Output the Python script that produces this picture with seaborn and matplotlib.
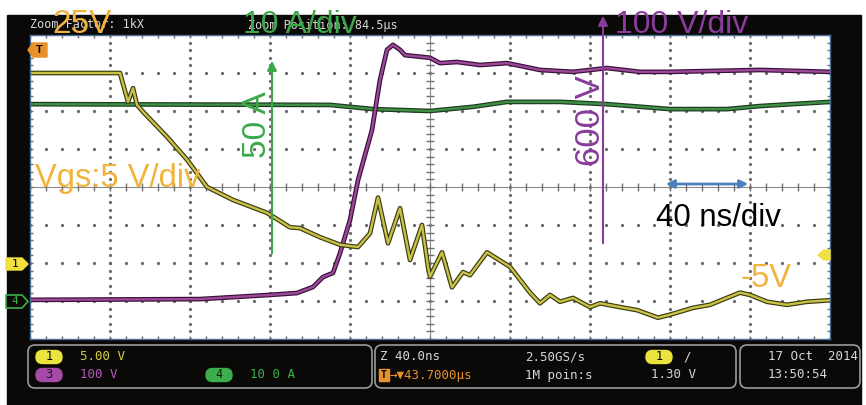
import matplotlib
matplotlib.use('Agg')
import matplotlib.pyplot as plt
import matplotlib.patheffects as pe
from matplotlib.patches import Rectangle, FancyBboxPatch, Polygon
import seaborn as sns
import pandas as pd
import numpy as np

W, H = 866, 405

# channel 1: gate voltage (5 V/div), time in ns from left edge of screen
vgs_t = [0, 45, 49, 51.5, 53.5, 56.5, 68.5, 78.5, 88.5, 101.5, 118.5, 130, 135, 145, 155, 164,
         170, 174, 179, 185, 190, 196, 199, 200, 206, 211, 216.5, 220, 228.5, 240, 250, 255,
         260, 265, 271.5, 280, 285, 295, 303.5, 314, 320, 331.5, 340, 355, 360, 368.5, 378.5,
         388.5, 400]
vgs_v = [25.0, 25.0, 21.2, 23.0, 20.8, 19.9, 16.6, 13.6, 10.0, 8.3, 6.6, 4.7, 4.6, 3.4, 2.4, 2.1,
         3.9, 8.6, 2.6, 7.2, 0.4, 5.0, -0.5, -1.8, 1.4, -3.2, -1.2, -1.6, 1.4, -0.5, -3.9, -5.3,
         -4.2, -5.1, -4.6, -5.8, -5.3, -5.8, -6.2, -7.2, -6.8, -5.9, -5.5, -3.9, -4.2, -5.1, -5.5,
         -5.1, -4.9]

# channel 3: drain-source voltage (100 V/div)
vds_t = [0, 85, 120, 133.5, 141.5, 146.5, 151.5, 155, 160, 164, 171, 175, 178.5, 181.5, 185,
         187.5, 200, 205, 213.5, 225, 238.5, 255, 271.5, 288.5, 305, 320, 365, 400]
vds_v = [3, 5, 16, 21, 37, 63, 74, 126, 213, 318, 450, 582, 661, 674, 661,
         647, 640, 626, 629, 621, 626, 608, 603, 613, 603, 603, 608, 603]

# channel 4: current (10 A/div)
id_t = [0, 150, 171.5, 200, 221.5, 238.5, 265, 288.5, 320, 348.5, 365, 400]
id_a = [51.8, 51.6, 50.5, 50.0, 51.1, 52.4, 52.4, 51.8, 50.5, 50.5, 51.3, 52.4]

NS_DIV = 40
channels = {
    'vgs': dict(scale=5, offset=-2, color='#c9c247', edge='#3b3a12'),
    'vds': dict(scale=100, offset=-3, color='#9a4a98', edge='#3a0f3a'),
    'id': dict(scale=10, offset=-3, color='#3f8f45', edge='#1c3a1e'),
}

frames = []
for name, t, v in [('id', id_t, id_a), ('vds', vds_t, vds_v), ('vgs', vgs_t, vgs_v)]:
    c = channels[name]
    frames.append(pd.DataFrame({'x': np.array(t) / NS_DIV,
                                'y': np.array(v) / c['scale'] + c['offset'],
                                'ch': name}))
df = pd.concat(frames)

sns.set_style('white')
plt.rcParams['font.family'] = ['Liberation Sans', 'DejaVu Sans']

fig = plt.figure(figsize=(W / 100, H / 100), dpi=100)


def px_box(x0, y0, x1, y1):
    return [x0 / W, 1 - y1 / H, (x1 - x0) / W, (y1 - y0) / H]


bg = fig.add_axes([0, 0, 1, 1], zorder=0)
bg.set_xlim(0, W)
bg.set_ylim(H, 0)
bg.axis('off')
bg.add_patch(Rectangle((7, 15), 854, 390, color='#0b0907'))

mono = 'DejaVu Sans Mono'
grey = '#d6d6d6'
bg.text(30, 25, 'Zoom Factor: 1kX', color=grey, family=mono, fontsize=8.5, va='center')
bg.text(248, 25, 'Zoom Position: 84.5\u03bcs', color=grey, family=mono, fontsize=8.5, va='center')

# screen
ax = fig.add_axes(px_box(30, 35, 830, 339), zorder=1)
ax.set_facecolor('white')
ax.set_xlim(0, 10)
ax.set_ylim(-4, 4)
ax.set_xticks([])
ax.set_yticks([])
for s in ax.spines.values():
    s.set_color('#4a6e96')
    s.set_linewidth(1)

gcol = '#6a6a6a'
fine_x = np.arange(0, 10.01, 0.2)
fine_y = np.arange(-4, 4.01, 0.2)
for gx in range(1, 10):
    if gx != 5:
        ax.plot(np.full_like(fine_y, gx), fine_y, ls='none', marker='o', ms=1.3, color=gcol)
for gy in range(-3, 4):
    if gy != 0:
        ax.plot(fine_x, np.full_like(fine_x, gy), ls='none', marker='o', ms=1.3, color=gcol)
ax.axvline(5, color='#8a8a8a', lw=0.8)
ax.axhline(0, color='#8a8a8a', lw=0.8)
ax.plot(np.full_like(fine_y, 5), fine_y, ls='none', marker='_', ms=6, mew=1, color='#707070')
ax.plot(fine_x, np.zeros_like(fine_x), ls='none', marker='|', ms=6, mew=1, color='#707070')
for ey in (-4, 4):
    ax.plot(fine_x, np.full_like(fine_x, ey), ls='none', marker='|', ms=5, mew=1, color='#707070')
for ex in (0, 10):
    ax.plot(np.full_like(fine_y, ex), fine_y, ls='none', marker='_', ms=5, mew=1, color='#707070')

for name in ['id', 'vds', 'vgs']:
    c = channels[name]
    sns.lineplot(data=df[df['ch'] == name], x='x', y='y', ax=ax, color=c['color'], lw=1.7,
                 estimator=None, sort=False,
                 path_effects=[pe.Stroke(linewidth=3.4, foreground=c['edge']), pe.Normal()])
ax.set_xlabel('')
ax.set_ylabel('')

# overlay annotations
ov = fig.add_axes([0, 0, 1, 1], zorder=2)
ov.set_xlim(0, W)
ov.set_ylim(H, 0)
ov.axis('off')

orange = '#f2b33d'
green = '#3ba84a'
purple = '#8a3b9e'

ov.text(52, 33, '25V', color=orange, fontsize=24, va='baseline')
ov.text(243, 33, '10 A/div', color=green, fontsize=23, va='baseline')
ov.text(615, 33, '100 V/div', color=purple, fontsize=23, va='baseline')
ov.text(35, 187, 'Vgs:5 V/div', color=orange, fontsize=23.5, va='baseline')
ov.text(741, 287, '-5V', color=orange, fontsize=23.5, va='baseline')
ov.text(656, 226, '40 ns/div', color='black', fontsize=22.5, va='baseline')
ov.text(258, 125, '50 A', color=green, fontsize=24, rotation=90, ha='center', va='center')
ov.text(590, 121, '600 V', color=purple, fontsize=25, rotation=90, ha='center', va='center')

ov.annotate('', xy=(272, 58), xytext=(272, 256),
            arrowprops=dict(arrowstyle='-|>', color=green, lw=1.5, mutation_scale=14))
ov.annotate('', xy=(603, 13), xytext=(603, 246),
            arrowprops=dict(arrowstyle='-|>', color=purple, lw=1.5, mutation_scale=14))
ov.annotate('', xy=(663, 184), xytext=(751, 184),
            arrowprops=dict(arrowstyle='<|-|>', color='#4a7fc1', lw=2, mutation_scale=12))

# markers on screen edges
ov.add_patch(Polygon([(28, 50), (33, 43), (47, 43), (47, 57), (33, 57)], closed=True,
                     color='#e8902a'))
ov.text(39, 50, 'T', color='black', fontsize=8, fontweight='bold', ha='center', va='center')
ov.add_patch(Polygon([(6, 258), (22, 258), (28, 264), (22, 270), (6, 270)], closed=True,
                     color='#f0e040'))
ov.text(15, 264, '1', color='black', family=mono, fontsize=8, ha='center', va='center')
ov.add_patch(Polygon([(6, 295), (22, 295), (28, 301.5), (22, 308), (6, 308)], closed=True,
                     facecolor='#0b0907', edgecolor='#3cb04a', lw=1.2))
ov.text(15, 301.5, '4', color='#3cb04a', family=mono, fontsize=8, ha='center', va='center')
ov.add_patch(Polygon([(818, 255), (824, 250), (830, 250), (830, 260), (824, 260)], closed=True,
                     color='#f0e040'))

# bottom info panel
for x0, x1 in [(28, 372), (375, 736), (740, 860)]:
    bg.add_patch(FancyBboxPatch((x0, 345), x1 - x0, 43,
                                boxstyle='round,pad=0,rounding_size=7',
                                facecolor='none', edgecolor='#9a9a9a', lw=1.2))


def pill(x, y, label, fill, fg='black', edge=None):
    bg.add_patch(FancyBboxPatch((x, y - 6.5), 26, 13, boxstyle='round,pad=0,rounding_size=6.5',
                                facecolor=fill, edgecolor=edge or fill, lw=1))
    bg.text(x + 13, y, label, color=fg, family=mono, fontsize=8.5, ha='center', va='center')


pill(36, 357, '1', '#ece43e')
pill(36, 375, '3', '#a64aa8', fg='#2a0a2a')
pill(206, 375, '4', '#3cae4c', fg='#0a2a0a')
pill(646, 357, '1', '#ece43e')

bg.text(80, 357, '5.00 V', color='#d8d040', family=mono, fontsize=9, va='center')
bg.text(80, 375, '100 V', color='#b55cb8', family=mono, fontsize=9, va='center')
bg.text(250, 375, '10 0 A', color='#3cae4c', family=mono, fontsize=9, va='center')
bg.text(380, 357, 'Z 40.0ns', color=grey, family=mono, fontsize=9, va='center')
bg.add_patch(Rectangle((379, 369), 10, 12, color='#e8902a'))
bg.text(384, 375, 'T', color='black', family=mono, fontsize=7, fontweight='bold',
        ha='center', va='center')
bg.text(390, 375, '\u2192\u25bc43.7000\u03bcs', color='#e8902a', family=mono, fontsize=9,
        va='center')
bg.text(525, 357, '2.50GS/s', color=grey, family=mono, fontsize=9, va='center')
bg.text(525, 375, '1M poin:s', color=grey, family=mono, fontsize=9, va='center')
bg.text(683, 357, '/', color=grey, family=mono, fontsize=9, va='center')
bg.text(651, 375, '1.30 V', color=grey, family=mono, fontsize=9, va='center')
bg.text(768, 357, '17 Oct  2014', color=grey, family=mono, fontsize=9, va='center')
bg.text(768, 375, '13:50:54', color=grey, family=mono, fontsize=9, va='center')

fig.savefig('out.png', dpi=100)
